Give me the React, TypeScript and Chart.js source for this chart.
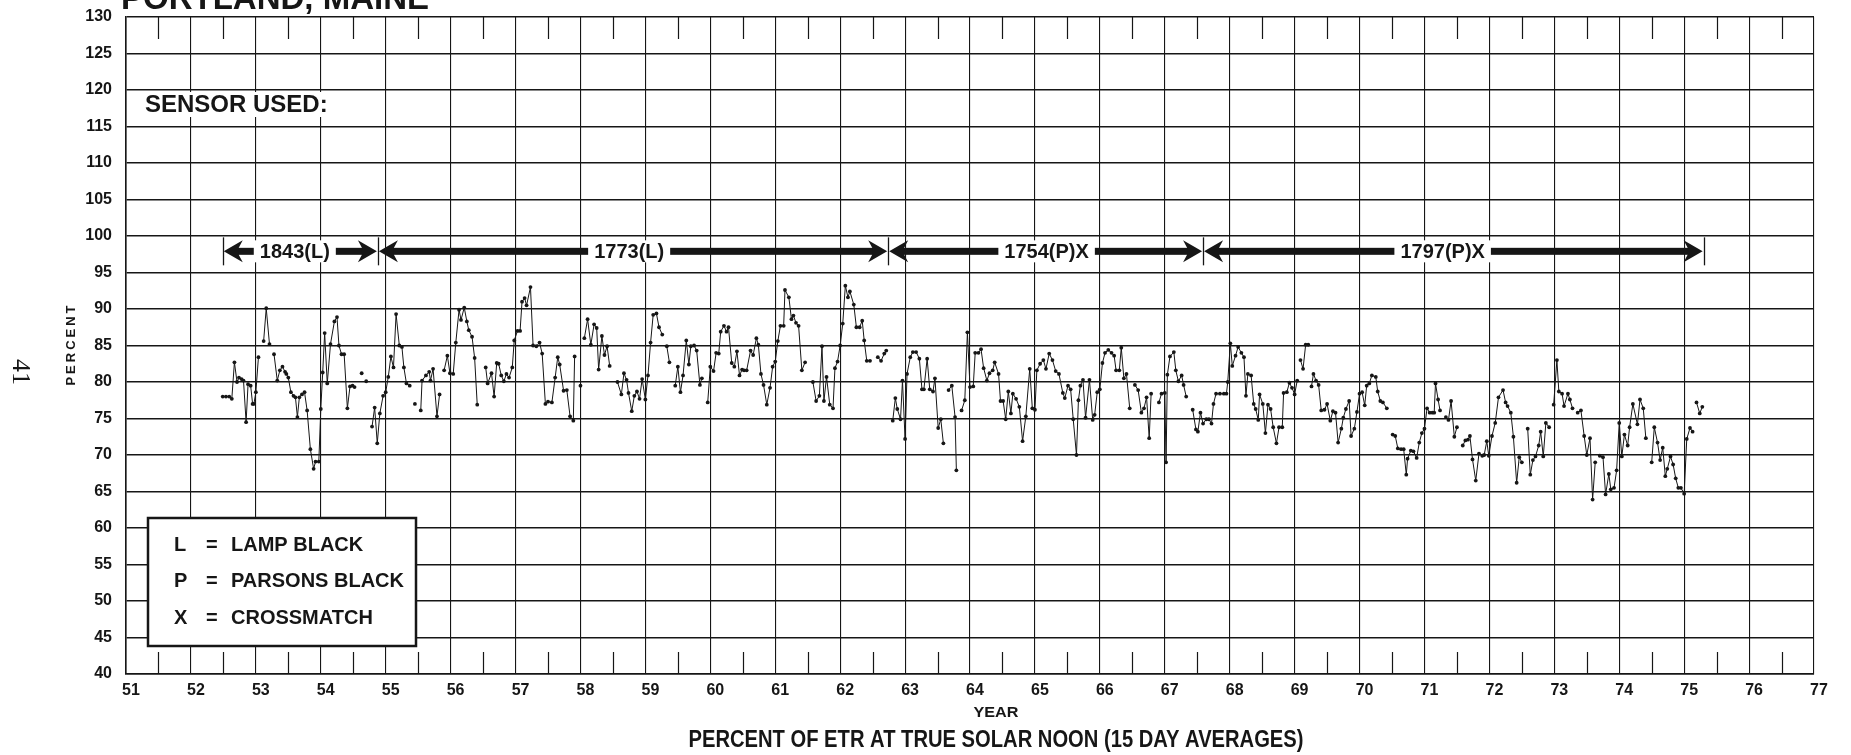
import React, { useEffect, useRef } from "react";
import { Chart, registerables } from "chart.js";

Chart.register(...registerables);

type Pt = [number, number] | null;

// ---- axis ranges -------------------------------------------------------
const X_MIN = 51;
const X_MAX = 77;
const Y_MIN = 40;
const Y_MAX = 130;
const Y_STEP = 5;

// ---- sensor periods ----------------------------------------------------
const SENSOR_BOUNDS = [52.49, 54.88, 62.74, 67.59, 75.3];
const SENSOR_LABELS = ["1843(L)", "1773(L)", "1754(P)X", "1797(P)X"];
const SENSOR_LABEL_AT = [53.6, 58.75, 65.18, 71.28];
const ARROW_LEVEL = 97.9;

// ---- legend -------------------------------------------------------------
const LEGEND_CODES = ["L", "P", "X"];
const LEGEND_NAMES = ["LAMP BLACK", "PARSONS BLACK", "CROSSMATCH"];

// ---- data: [year, percent], null = break in the line --------------------
const SENSOR_1843: Pt[] = [
  [52.49, 78.0], [52.54, 78.0], [52.59, 78.0], [52.63, 77.7], [52.67, 82.7], [52.71, 80.0], [52.74, 80.6],
  [52.78, 80.4], [52.81, 80.2], [52.85, 74.5], [52.88, 79.7], [52.92, 79.5], [52.95, 77.0], [52.97, 77.0],
  [53.0, 78.6], [53.04, 83.4], null, [53.12, 85.6], [53.16, 90.1], [53.21, 85.2], null,
  [53.28, 83.8], [53.33, 80.2], [53.37, 81.6], [53.41, 82.1], [53.45, 81.4], [53.47, 81.1], [53.5, 80.6],
  [53.54, 78.6], [53.58, 78.1], [53.61, 77.9], [53.64, 75.2], [53.67, 77.9], [53.71, 78.3], [53.75, 78.6],
  [53.79, 76.1], [53.84, 70.8], [53.89, 68.1], [53.92, 69.1], [53.97, 69.1], [54.0, 76.3], [54.03, 81.3],
  [54.06, 86.7], [54.1, 79.8], [54.15, 85.2], [54.21, 88.3], [54.25, 88.9], [54.28, 85.0], [54.32, 83.8],
  [54.36, 83.8], [54.41, 76.4], [54.45, 79.4], [54.49, 79.5], [54.52, 79.3], null,
  [54.63, 81.2], null, [54.7, 80.1], null,
  [54.79, 73.9], [54.83, 76.5], [54.87, 71.6],
];

const SENSOR_1773: Pt[] = [
  [54.91, 75.7], [54.96, 78.1], [55.0, 78.6], [55.04, 80.7], [55.08, 83.5], [55.12, 82.0], [55.16, 89.3],
  [55.21, 85.0], [55.25, 84.8], [55.28, 82.0], [55.32, 79.8], [55.37, 79.5], null,
  [55.45, 77.0], null,
  [55.54, 76.1], [55.56, 80.2], [55.62, 80.9], [55.67, 81.4], [55.69, 80.2], [55.73, 81.8], [55.79, 75.3],
  [55.83, 78.3], null,
  [55.9, 81.6], [55.95, 83.6], [55.99, 81.2], [56.04, 81.1], [56.08, 85.4], [56.13, 89.9], [56.16, 88.5],
  [56.21, 90.2], [56.25, 88.3], [56.28, 87.1], [56.33, 86.2], [56.37, 83.3], [56.41, 76.9], null,
  [56.54, 82.0], [56.57, 79.8], [56.63, 81.2], [56.67, 78.0], [56.71, 82.6], [56.74, 82.5], [56.78, 80.9],
  [56.82, 80.1], [56.86, 81.1], [56.9, 80.6], [56.95, 82.0], [56.98, 85.7], [57.03, 87.0], [57.07, 87.0],
  [57.1, 91.0], [57.14, 91.5], [57.17, 90.5], [57.23, 93.0], [57.27, 85.0], [57.32, 84.9], [57.37, 85.4],
  [57.41, 83.9], [57.46, 77.0], [57.5, 77.3], [57.56, 77.2], [57.61, 80.6], [57.65, 83.4], [57.68, 82.4],
  [57.74, 78.8], [57.79, 78.9], [57.84, 75.3], [57.89, 74.7], [57.91, 83.5], null,
  [58.0, 79.5], null,
  [58.06, 86.0], [58.11, 88.6], [58.16, 85.1], [58.21, 87.9], [58.25, 87.4], [58.28, 81.7], [58.33, 86.3],
  [58.37, 83.7], [58.41, 84.9], [58.45, 82.2], null,
  [58.57, 80.0], [58.63, 78.3], [58.67, 81.2], [58.71, 80.3], [58.74, 78.5], [58.79, 76.0], [58.83, 78.1],
  [58.87, 78.7], [58.91, 77.7], [58.95, 80.4], [59.0, 77.6], [59.04, 80.9], [59.08, 85.4], [59.12, 89.2],
  [59.17, 89.4], [59.21, 87.5], [59.26, 86.5], null,
  [59.33, 84.9], [59.37, 82.7], null,
  [59.46, 79.5], [59.5, 82.1], [59.54, 78.6], [59.58, 80.9], [59.63, 85.7], [59.67, 82.4], [59.7, 84.9],
  [59.75, 85.0], [59.79, 84.3], [59.84, 79.6], [59.87, 80.5], null,
  [59.96, 77.2], [60.0, 82.1], [60.05, 81.5], [60.09, 84.0], [60.13, 83.9], [60.16, 86.9], [60.21, 87.7],
  [60.25, 86.9], [60.28, 87.5], [60.33, 82.6], [60.37, 82.1], [60.41, 84.2], [60.45, 80.9], [60.49, 81.7],
  [60.52, 81.6], [60.56, 81.6], [60.62, 84.3], [60.66, 83.7], [60.71, 86.0], [60.74, 85.1], [60.78, 81.1],
  [60.82, 79.6], [60.87, 76.9], [60.92, 79.2], [60.96, 82.1], [61.0, 82.8], [61.04, 85.6], [61.08, 87.7],
  [61.13, 87.7], [61.15, 92.6], [61.21, 91.6], [61.25, 88.6], [61.28, 89.1], [61.32, 88.1], [61.36, 87.7],
  [61.41, 81.6], [61.46, 82.7], null,
  [61.58, 80.0], [61.63, 77.4], [61.68, 78.1], [61.72, 84.9], [61.75, 77.4], [61.79, 80.7], [61.84, 76.9],
  [61.89, 76.4], [61.92, 81.9], [61.96, 82.8], [62.0, 85.0], [62.04, 88.0], [62.08, 93.2], [62.12, 91.6],
  [62.15, 92.4], [62.21, 90.6], [62.25, 87.5], [62.3, 87.5], [62.34, 88.4], [62.37, 85.7], [62.41, 82.9],
  [62.46, 82.9], null,
  [62.58, 83.4], [62.63, 82.9], [62.68, 83.9], [62.71, 84.3], null,
];

const SENSOR_1754: Pt[] = [
  [62.81, 74.7], [62.85, 77.8], [62.88, 76.3], [62.93, 74.9], [62.96, 80.2], [63.0, 72.2], [63.03, 81.1],
  [63.08, 83.4], [63.12, 84.1], [63.17, 84.1], [63.22, 83.2], [63.26, 79.0], [63.29, 79.0], [63.34, 83.2],
  [63.38, 79.0], [63.43, 78.7], [63.46, 80.5], [63.51, 73.7], [63.55, 74.9], [63.59, 71.6], null,
  [63.67, 78.9], [63.72, 79.5], [63.77, 75.2], [63.79, 67.9], null,
  [63.87, 76.1], [63.92, 77.5], [63.96, 86.8], [64.0, 79.3], [64.05, 79.4], [64.08, 84.0], [64.13, 84.0],
  [64.17, 84.5], [64.21, 81.9], [64.26, 80.2], [64.3, 81.2], [64.35, 81.6], [64.38, 82.7], [64.44, 81.1],
  [64.47, 77.4], [64.51, 77.4], [64.55, 74.9], [64.59, 78.7], [64.63, 75.7], [64.66, 78.4], [64.71, 77.7],
  [64.76, 76.6], [64.81, 71.9], [64.86, 75.3], [64.92, 81.8], [64.96, 76.4], [65.0, 76.2], [65.03, 81.6],
  [65.08, 82.5], [65.13, 83.0], [65.17, 81.8], [65.22, 83.9], [65.27, 83.0], [65.32, 81.5], [65.37, 81.1],
  [65.43, 78.5], [65.46, 77.8], [65.51, 79.5], [65.55, 79.0], [65.59, 74.9], [65.64, 70.0], [65.67, 77.5],
  [65.7, 79.5], [65.74, 80.3], [65.78, 75.1], [65.84, 80.3], [65.89, 74.8], [65.92, 75.5], [65.96, 78.6],
  [66.0, 79.0], [66.04, 82.6], [66.08, 84.0], [66.13, 84.4], [66.18, 84.0], [66.22, 83.6], [66.25, 81.6],
  [66.3, 81.6], [66.33, 84.7], [66.37, 80.5], [66.41, 81.1], [66.46, 76.4], null,
  [66.54, 79.6], [66.59, 78.9], [66.64, 75.8], [66.68, 76.4], [66.72, 77.9], [66.76, 72.3], [66.79, 78.4], null,
  [66.91, 77.2], [66.95, 78.4], [67.0, 78.5], [67.02, 69.0], [67.04, 81.0], [67.08, 83.5], [67.14, 84.1],
  [67.17, 81.6], [67.21, 80.1], [67.26, 80.9], [67.29, 79.6], [67.33, 78.0], null,
  [67.43, 76.2], [67.48, 73.5], [67.51, 73.2], [67.55, 75.8],
];

const SENSOR_1797: Pt[] = [
  [67.59, 74.3], [67.64, 74.9], [67.68, 74.9], [67.72, 74.3], [67.75, 77.0], [67.79, 78.4], [67.85, 78.4],
  [67.91, 78.4], [67.95, 78.4], [67.97, 80.0], [68.01, 85.3], [68.04, 82.2], [68.09, 83.6], [68.13, 84.8],
  [68.18, 84.0], [68.22, 83.4], [68.25, 78.1], [68.28, 81.1], [68.33, 80.9], [68.37, 77.0], [68.4, 76.3],
  [68.44, 74.8], [68.46, 78.3], [68.51, 77.0], [68.55, 73.0], [68.59, 76.9], [68.63, 76.3], [68.67, 73.8],
  [68.72, 71.6], [68.76, 73.8], [68.81, 73.8], [68.83, 78.5], [68.88, 78.6], [68.92, 79.9], [68.96, 79.2],
  [69.0, 78.3], [69.04, 80.2], null,
  [69.09, 83.0], [69.13, 81.8], [69.17, 85.1], [69.21, 85.1], null,
  [69.26, 79.4], [69.29, 81.1], [69.33, 80.2], [69.37, 79.6], [69.41, 76.1], [69.46, 76.2], [69.5, 77.0],
  [69.55, 74.7], [69.59, 76.0], [69.63, 75.8], [69.67, 71.7], [69.72, 73.6], [69.75, 75.1], [69.79, 76.3],
  [69.84, 77.4], [69.87, 72.6], [69.92, 73.6], [69.96, 75.9], [70.0, 78.4], [70.04, 78.6], [70.08, 76.8],
  [70.11, 79.5], [70.15, 79.8], [70.19, 80.9], [70.25, 80.7], [70.28, 78.7], [70.32, 77.4], [70.36, 77.2],
  [70.42, 76.4], null,
  [70.51, 72.8], [70.55, 72.6], [70.59, 70.9], [70.64, 70.8], [70.68, 70.8], [70.72, 67.3], [70.74, 69.5],
  [70.79, 70.6], [70.83, 70.5], [70.88, 69.6], [70.92, 71.7], [70.96, 73.0], [71.0, 73.6], [71.04, 76.4],
  [71.08, 75.8], [71.12, 75.8], [71.15, 75.8], [71.17, 79.8], [71.21, 77.6], [71.24, 76.1], null,
  [71.33, 75.2], [71.37, 74.8], [71.41, 77.4], [71.46, 72.5], [71.5, 73.8], null,
  [71.59, 71.3], [71.63, 72.0], [71.67, 72.1], [71.7, 72.6], [71.74, 69.4], [71.79, 66.5], [71.84, 70.2],
  [71.89, 69.9], [71.92, 70.0], [71.96, 71.9], [71.99, 69.9], [72.04, 72.6], [72.09, 74.4], [72.14, 77.9],
  [72.21, 78.9], [72.25, 77.2], [72.28, 76.7], [72.33, 75.8], [72.37, 72.5], [72.42, 66.2], [72.46, 69.7],
  [72.5, 69.0], null,
  [72.59, 73.6], [72.63, 67.3], [72.67, 69.3], [72.71, 69.8], [72.76, 71.3], [72.79, 73.2], [72.83, 69.8],
  [72.87, 74.4], [72.92, 73.8], null,
  [72.99, 76.9], [73.04, 83.0], [73.07, 78.7], [73.12, 78.4], [73.15, 76.7], [73.21, 78.4], [73.24, 77.6],
  [73.28, 76.4], null,
  [73.36, 75.8], [73.41, 76.1], [73.46, 72.6], [73.5, 70.0], [73.55, 72.3], [73.59, 63.9], [73.63, 69.0], null,
  [73.7, 69.9], [73.75, 69.7], [73.79, 64.6], [73.84, 67.4], [73.87, 65.3], [73.92, 65.5], [73.96, 67.9],
  [74.0, 74.4], [74.04, 69.8], [74.08, 72.8], [74.13, 71.3], [74.16, 73.8], [74.21, 77.0], [74.28, 74.2],
  [74.32, 77.6], [74.37, 76.4], [74.41, 72.3], null,
  [74.5, 69.0], [74.54, 73.8], [74.59, 71.7], [74.63, 69.3], [74.67, 71.0], [74.71, 67.1], [74.74, 68.1],
  [74.79, 69.8], [74.83, 68.7], [74.87, 66.8], [74.91, 65.5], [74.95, 65.5], [75.0, 64.7], [75.04, 72.2],
  [75.09, 73.7], [75.13, 73.2], null,
  [75.19, 77.2], [75.24, 75.7], [75.28, 76.6],
];

// ---- styling -------------------------------------------------------------
const INK = "#161616";
const SANS = "'Liberation Sans', Arial, Helvetica, sans-serif";

function toPoints(...parts: Pt[][]) {
  const out: { x: number; y: number | null }[] = [];
  let lastX = X_MIN;
  for (const part of parts) {
    for (const p of part) {
      if (p === null) {
        out.push({ x: lastX, y: null });
      } else {
        lastX = p[0];
        out.push({ x: p[0], y: p[1] });
      }
    }
  }
  return out;
}

function fitText(ctx: CanvasRenderingContext2D, text: string, cx: number, cy: number, width: number, font: string) {
  ctx.save();
  ctx.font = font;
  const w = ctx.measureText(text).width;
  ctx.translate(cx, cy);
  ctx.scale(width / w, 1);
  ctx.textAlign = "center";
  ctx.textBaseline = "middle";
  ctx.fillText(text, 0, 0);
  ctx.restore();
}

const annotations = {
  id: "annotations",
  afterDraw(chart: any) {
    const ctx: CanvasRenderingContext2D = chart.ctx;
    const xs = chart.scales.x;
    const ys = chart.scales.y;
    const area = chart.chartArea;
    ctx.save();

    // half-year short ticks, top and bottom
    ctx.strokeStyle = INK;
    ctx.lineWidth = 1.2;
    for (let v = X_MIN + 0.5; v < X_MAX; v += 1) {
      const px = Math.round(xs.getPixelForValue(v)) + 0.5;
      ctx.beginPath();
      ctx.moveTo(px, area.top);
      ctx.lineTo(px, area.top + 22);
      ctx.moveTo(px, area.bottom);
      ctx.lineTo(px, area.bottom - 22);
      ctx.stroke();
    }

    // sensor arrows
    const ay = ys.getPixelForValue(ARROW_LEVEL);
    const head = (x0: number, d: number) => {
      ctx.beginPath();
      ctx.moveTo(x0, ay);
      ctx.lineTo(x0 + d * 19, ay - 11);
      ctx.lineTo(x0 + d * 15, ay - 3.5);
      ctx.lineTo(x0 + d * 15, ay + 3.5);
      ctx.lineTo(x0 + d * 19, ay + 11);
      ctx.closePath();
      ctx.fill();
    };
    for (let i = 0; i < SENSOR_LABELS.length; i++) {
      const a = xs.getPixelForValue(SENSOR_BOUNDS[i]);
      const b = xs.getPixelForValue(SENSOR_BOUNDS[i + 1]);
      ctx.fillStyle = INK;
      ctx.fillRect(a + 14, ay - 3.5, b - a - 28, 7);
      head(a + 1, 1);
      head(b - 1, -1);
      ctx.font = `bold 20px ${SANS}`;
      const lx = xs.getPixelForValue(SENSOR_LABEL_AT[i]);
      const w = ctx.measureText(SENSOR_LABELS[i]).width;
      ctx.fillStyle = "#fff";
      ctx.fillRect(lx - w / 2 - 6, ay - 11, w + 12, 22);
      ctx.fillStyle = INK;
      ctx.textAlign = "center";
      ctx.textBaseline = "middle";
      ctx.fillText(SENSOR_LABELS[i], lx, ay + 1);
    }
    ctx.lineWidth = 1.3;
    for (const v of SENSOR_BOUNDS) {
      const px = Math.round(xs.getPixelForValue(v)) + 0.5;
      ctx.beginPath();
      ctx.moveTo(px, ay - 14);
      ctx.lineTo(px, ay + 14);
      ctx.stroke();
    }

    // "SENSOR USED:"
    ctx.fillStyle = "#fff";
    ctx.fillRect(138, 92, 200, 25);
    ctx.fillStyle = INK;
    ctx.font = `bold 24px ${SANS}`;
    ctx.textAlign = "left";
    ctx.textBaseline = "middle";
    ctx.fillText("SENSOR USED:", 145, 105);

    // legend box
    ctx.fillStyle = "#fff";
    ctx.fillRect(148, 518, 268, 128);
    ctx.lineWidth = 2.5;
    ctx.strokeStyle = INK;
    ctx.strokeRect(148, 518, 268, 128);
    ctx.fillStyle = INK;
    ctx.font = `bold 20px ${SANS}`;
    ctx.textBaseline = "middle";
    for (let i = 0; i < LEGEND_CODES.length; i++) {
      const y = 545 + i * 36.5;
      ctx.textAlign = "left";
      ctx.fillText(LEGEND_CODES[i], 174, y);
      ctx.fillText("=", 206, y);
      ctx.fillText(LEGEND_NAMES[i], 231, y);
    }

    // title (cut by the top of the page)
    ctx.font = `bold 33px ${SANS}`;
    ctx.textAlign = "left";
    ctx.textBaseline = "alphabetic";
    ctx.fillText("PORTLAND, MAINE", 121, 9);

    // y-axis title
    ctx.save();
    ctx.translate(71, 345);
    ctx.rotate(-Math.PI / 2);
    ctx.font = `bold 13px ${SANS}`;
    (ctx as any).letterSpacing = "3px";
    ctx.textAlign = "center";
    ctx.textBaseline = "middle";
    ctx.fillText("PERCENT", 1, 0);
    ctx.restore();

    // page number
    ctx.save();
    ctx.translate(20, 372);
    ctx.rotate(Math.PI / 2);
    ctx.font = `26px 'Liberation Serif', 'DejaVu Serif', serif`;
    ctx.textAlign = "center";
    ctx.textBaseline = "middle";
    ctx.fillText("41", 0, 0);
    ctx.restore();

    // x-axis titles
    fitText(ctx, "YEAR", 996, 713, 45, `bold 15px ${SANS}`);
    fitText(ctx, "PERCENT OF ETR AT TRUE SOLAR NOON (15 DAY AVERAGES)", 996, 740, 615, `bold 24px ${SANS}`);

    ctx.restore();
  },
};

export default function App() {
  const ref = useRef<HTMLCanvasElement | null>(null);

  useEffect(() => {
    if (!ref.current) return;
    const chart = new Chart(ref.current, {
      type: "line",
      data: {
        datasets: [
          {
            data: toPoints(SENSOR_1843, SENSOR_1773, SENSOR_1754, SENSOR_1797) as any,
            borderColor: INK,
            borderWidth: 1,
            pointRadius: 1.9,
            pointBackgroundColor: INK,
            pointBorderWidth: 0,
            spanGaps: false,
            tension: 0,
          },
        ],
      },
      options: {
        animation: false,
        responsive: false,
        parsing: true,
        layout: { padding: { top: 17, left: 0, right: 37, bottom: 0 } },
        plugins: { legend: { display: false }, tooltip: { enabled: false }, title: { display: false } },
        scales: {
          x: {
            type: "linear",
            min: X_MIN,
            max: X_MAX,
            afterFit: (s: any) => {
              s.height = 81;
              s.paddingLeft = 0;
              s.paddingRight = 0;
            },
            ticks: {
              stepSize: 1,
              autoSkip: false,
              maxRotation: 0,
              padding: 7,
              labelOffset: 5,
              color: INK,
              font: { family: SANS, size: 16, weight: "bold" },
            },
            grid: { color: INK, lineWidth: 1.1, drawTicks: false },
            border: { color: INK, width: 1.6 },
          },
          y: {
            min: Y_MIN,
            max: Y_MAX,
            afterFit: (s: any) => {
              s.width = 126;
              s.paddingTop = 0;
              s.paddingBottom = 0;
            },
            ticks: {
              stepSize: Y_STEP,
              autoSkip: false,
              padding: 14,
              color: INK,
              font: { family: SANS, size: 16, weight: "bold" },
            },
            grid: { color: INK, lineWidth: 1.6, drawTicks: false },
            border: { color: INK, width: 1.6 },
          },
        },
      },
      plugins: [annotations],
    });
    return () => chart.destroy();
  }, []);

  return (
    <div style={{ position: "fixed", left: 0, top: 0, width: 1851, height: 755, background: "#fff" }}>
      <canvas ref={ref} width={1851} height={755} style={{ width: 1851, height: 755, display: "block" }} />
    </div>
  );
}
